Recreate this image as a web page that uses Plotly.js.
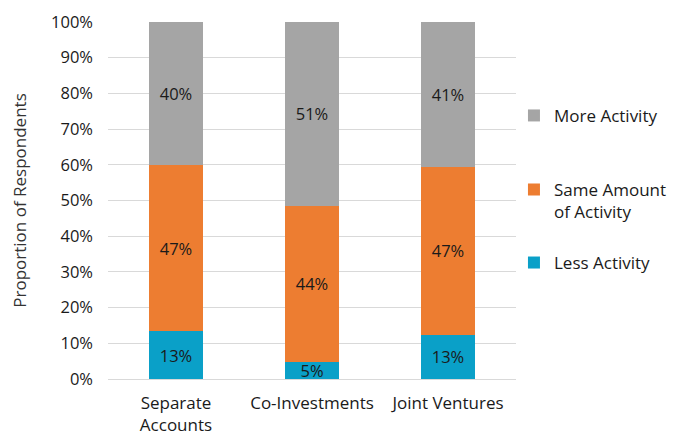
<!DOCTYPE html>
<html>
<head>
<meta charset="utf-8">
<script src="https://cdn.plot.ly/plotly-3.0.1.min.js"></script>
<style>html,body{margin:0;padding:0;background:#fff;}#chart{width:682px;height:437px;}</style>
</head>
<body>
<div id="chart"></div>
<script>
const categories = ["Separate<br>Accounts", "Co-Investments", "Joint Ventures"];
const lessActivity = [13.4, 4.8, 12.4];
const sameActivity = [46.5, 43.8, 47.0];
const moreActivity = [40.1, 51.4, 40.6];
const lessLabels = ["13%", "5%", "13%"];
const sameLabels = ["47%", "44%", "47%"];
const moreLabels = ["40%", "51%", "41%"];
const seriesNames = ["Less Activity", "Same Amount<br>of Activity", "More Activity"];
const colors = ["#0aa0c8", "#ed7d31", "#a5a5a5"];
const legendIds = ["legend3", "legend2", "legend"];

const series = [lessActivity, sameActivity, moreActivity];
const labels = [lessLabels, sameLabels, moreLabels];
const traces = series.map((vals, i) => ({
  type: "bar",
  x: categories,
  y: vals,
  name: seriesNames[i],
  legend: legendIds[i],
  text: labels[i],
  textposition: "inside",
  insidetextanchor: "middle",
  constraintext: "none",
  textangle: 0,
  insidetextfont: {family: "Open Sans", size: 16.5, color: "#1a1a1a"},
  marker: {color: colors[i], line: {width: 0}},
  hoverinfo: "none"
}));

const legendBase = {
  x: 0.995, xanchor: "left", yanchor: "middle",
  valign: "top",
  font: {family: "Open Sans", size: 17, color: "#1a1a1a"},
  itemwidth: 30,
  bgcolor: "rgba(0,0,0,0)"
};

const layout = {
  width: 682, height: 437,
  margin: {l: 108, r: 166, t: 22, b: 58, autoexpand: false},
  barmode: "stack",
  bargap: 0.6,
  font: {family: "Open Sans", size: 17, color: "#333"},
  paper_bgcolor: "#fff", plot_bgcolor: "#fff",
  xaxis: {
    tickfont: {family: "Open Sans", size: 17, color: "#1a1a1a"},
    showgrid: false, showline: false, ticks: "",
    ticklabelstandoff: 12,
    fixedrange: true
  },
  yaxis: {
    range: [0, 100],
    dtick: 10,
    ticksuffix: "%",
    tickfont: {family: "Open Sans", size: 16.5, color: "#1a1a1a"},
    gridcolor: "#d9d9d9", gridwidth: 1,
    zeroline: true, zerolinecolor: "#d9d9d9", zerolinewidth: 1,
    showline: false, ticks: "", ticklen: 0,
    ticklabelstandoff: 14,
    title: {text: "Proportion of Respondents", font: {family: "Open Sans", size: 17, color: "#333"}, standoff: 20},
    fixedrange: true
  },
  showlegend: true,
  legend: Object.assign({}, legendBase, {y: 0.737}),
  legend2: Object.assign({}, legendBase, {y: 0.499}),
  legend3: Object.assign({}, legendBase, {y: 0.325})
};

Plotly.newPlot("chart", traces, layout, {displayModeBar: false, staticPlot: true});
</script>
</body>
</html>
